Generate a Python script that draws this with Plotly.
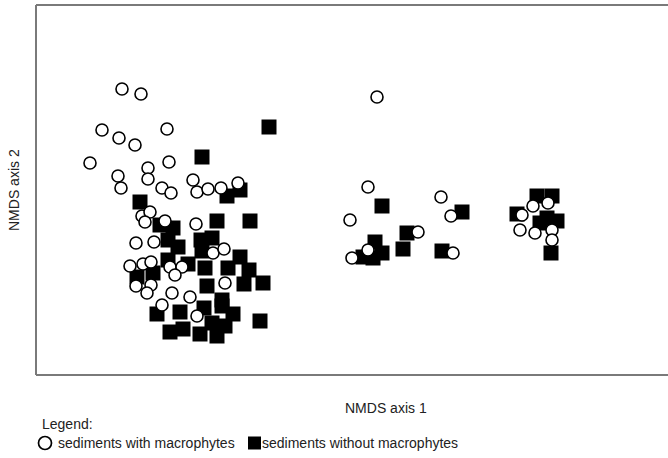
import plotly.graph_objects as go

# NMDS scores (arbitrary units, axis 2 increases downward in these units)
with_x = [122, 141, 102, 119, 135, 167, 90, 169, 118, 121, 148, 148, 162, 171, 193, 197, 208, 221, 238,
          142, 150, 145, 165, 196, 136, 154, 213, 224, 130, 143, 151, 170, 182, 175, 136, 151, 147, 172,
          190, 225, 162, 197,
          377, 368, 350, 441, 451, 418, 368, 352, 453,
          533, 548, 522, 520, 535, 552, 552]
with_y = [89, 94, 130, 138, 145, 129, 163, 162, 176, 188, 168, 179, 188, 193, 180, 192, 189, 188, 183,
          216, 212, 222, 221, 224, 243, 242, 253, 249, 266, 264, 262, 267, 267, 275, 286, 285, 293, 293,
          297, 283, 305, 316,
          97, 187, 220, 197, 216, 232, 250, 258, 253,
          206, 203, 215, 230, 233, 230, 240]

without_x = [269, 202, 140, 227, 240, 160, 173, 217, 250, 168, 178, 201, 212, 202, 240, 168, 188, 205,
             228, 249, 137, 153, 207, 244, 263, 222, 157, 180, 204, 222, 233, 260, 170, 183, 200, 217,
             212, 225,
             382, 462, 407, 375, 363, 382, 373, 403, 442,
             537, 552, 517, 547, 557, 540, 551]
without_y = [127, 157, 202, 196, 190, 225, 228, 221, 221, 240, 247, 240, 238, 251, 257, 260, 264, 268,
             268, 270, 277, 273, 286, 284, 283, 300, 314, 312, 308, 306, 314, 321, 332, 329, 334, 336,
             323, 326,
             206, 212, 233, 242, 257, 253, 258, 249, 251,
             196, 196, 214, 218, 221, 223, 253]

W, H = 668, 458
L, T, B = 36, 5, 83
PW, PH = W - L, H - T - B
FONT = "Liberation Sans, Arial, sans-serif"


def px(x):
    return (x - L) / PW


def py(y):
    return (H - B - y) / PH


fig = go.Figure()
fig.add_trace(go.Scatter(
    x=without_x, y=without_y, mode="markers", name="sediments without macrophytes",
    marker=dict(symbol="square", size=15, color="black", line=dict(width=0)),
    showlegend=False, hoverinfo="skip"))
fig.add_trace(go.Scatter(
    x=with_x, y=with_y, mode="markers", name="sediments with macrophytes",
    marker=dict(symbol="circle", size=12, color="white", line=dict(width=1.6, color="black")),
    showlegend=False, hoverinfo="skip"))

frame = dict(type="line", xref="paper", yref="paper", line=dict(color="#7a7a7a", width=2))
shapes = [
    dict(frame, x0=0, x1=0, y0=0, y1=1),
    dict(frame, x0=0, x1=1.2, y0=1, y1=1),
    dict(frame, x0=0, x1=1.2, y0=0, y1=0),
    # legend symbols
    dict(type="circle", xref="paper", yref="paper", x0=px(38.5), x1=px(51.5), y0=py(449.5), y1=py(436.5),
         line=dict(color="black", width=1.7), fillcolor="white"),
    dict(type="rect", xref="paper", yref="paper", x0=px(248), x1=px(261), y0=py(449.5), y1=py(436.5),
         line=dict(width=0), fillcolor="black"),
]

txt = dict(xref="paper", yref="paper", showarrow=False, font=dict(family=FONT, size=14, color="#222"))
annotations = [
    dict(txt, text="NMDS axis 2", x=px(14), y=py(190), textangle=-90, xanchor="center", yanchor="middle"),
    dict(txt, text="NMDS axis 1", x=px(386), y=py(408), xanchor="center", yanchor="middle"),
    dict(txt, text="Legend:", x=px(40), y=py(424), xanchor="left", yanchor="middle"),
    dict(txt, text="sediments with macrophytes", x=px(56), y=py(443), xanchor="left", yanchor="middle"),
    dict(txt, text="sediments without macrophytes", x=px(260), y=py(443), xanchor="left", yanchor="middle"),
]

axis = dict(showticklabels=False, showgrid=False, zeroline=False, showline=False, ticks="")
fig.update_layout(
    width=W, height=H,
    margin=dict(l=L, r=0, t=T, b=B),
    paper_bgcolor="white", plot_bgcolor="white",
    xaxis=dict(axis, range=[L, W]),
    yaxis=dict(axis, range=[H - B, T]),
    shapes=shapes, annotations=annotations,
    font=dict(family=FONT),
)
fig.write_html("out.html")
